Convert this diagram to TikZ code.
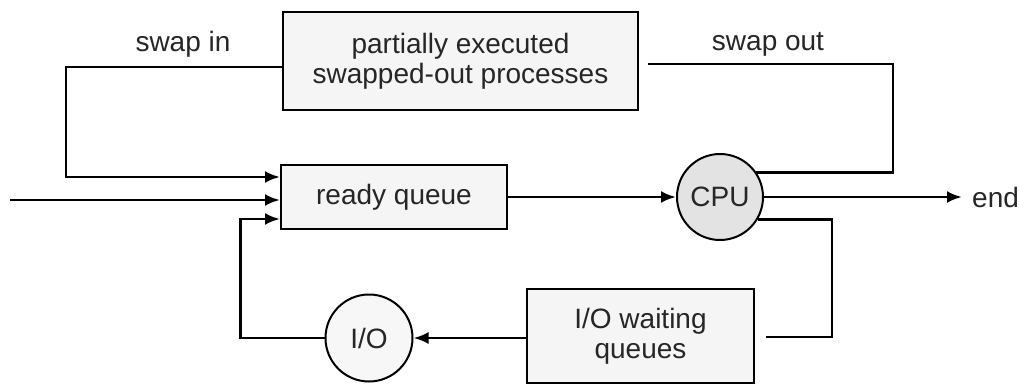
\documentclass[tikz,border=0pt]{standalone}
\usepackage{fontspec}
\setmainfont{Liberation Sans}
\usetikzlibrary{arrows.meta}
\begin{document}
\begin{tikzpicture}[x=1pt,y=-1pt,
  every node/.style={font=\fontsize{28}{30}\selectfont,text=black!85},
  queuebox/.style={rectangle,draw,line width=2pt,fill=gray!8,align=center,inner sep=0pt},
  unit/.style={circle,draw,line width=2pt,inner sep=0pt,minimum size=86pt},
  link/.style={line width=2.8pt},
  arr/.style={link,-{Latex[length=15pt,width=12pt]}}
]
\useasboundingbox (0,0) rectangle (1019,385);
% boxes and units
\node[queuebox,minimum width=355pt,minimum height=98pt] (swapped) at (460.5,61) {partially executed\\swapped-out processes};
\node[queuebox,minimum width=226pt,minimum height=64pt] (ready) at (394,197) {ready queue};
\node[unit,fill=gray!22] (cpu) at (720,197) {CPU};
\node[queuebox,minimum width=227pt,minimum height=94pt] (iowait) at (640.5,336) {I/O waiting\\queues};
\node[unit,fill=gray!6,minimum size=87pt] (io) at (369,338) {I/O};
\node[anchor=west,inner xsep=10pt] (end) at (962,197) {end};
\node (swapin) at (183,44) {swap in};
\node (swapout) at (768,44) {swap out};
\coordinate (start) at (10,200);
\coordinate (so) at (893,64);
\coordinate (ioc) at (832,337);
% connectors
\draw[arr] ([yshift=-6pt]swapped.west) -- ++(-216,0) |- ([yshift=20pt]ready.west);
\draw[arr] (start) -- ([yshift=-3pt]ready.west);
\draw[arr] (io.west) -- ++(-84,0) |- ([yshift=-22pt]ready.west);
\draw[arr] (ready.east) -- (cpu.west);
\draw[arr] (cpu.east) -- (end.west);
\draw[link,shorten >=9pt] (cpu.34) -| (so) -- (swapped.east |- so);
\draw[link,shorten >=11pt] (cpu.-31) -| (ioc) -- (iowait.east |- ioc);
\draw[arr] (iowait.west |- io.east) -- (io.east);
\end{tikzpicture}
\end{document}
